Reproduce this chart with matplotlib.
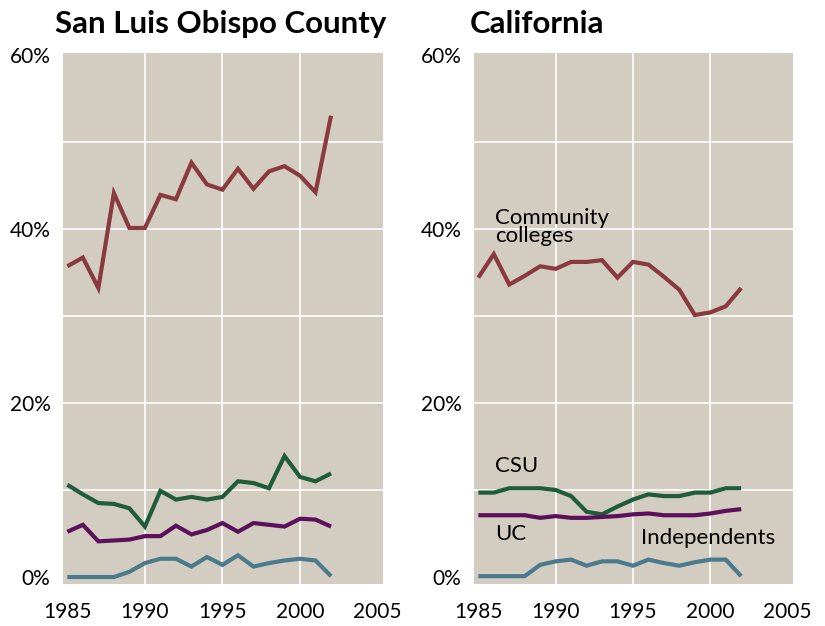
import matplotlib
matplotlib.use("Agg")
import matplotlib.pyplot as plt

years = list(range(1985, 2003))

slo_cc = [35.7, 36.7, 33.2, 44.1, 40.1, 40.1, 43.9, 43.4, 47.6, 45.1, 44.5, 46.9, 44.6, 46.6, 47.2, 46.1, 44.2, 53.0]
slo_csu = [10.6, 9.5, 8.5, 8.4, 7.9, 5.8, 9.9, 8.9, 9.2, 8.9, 9.2, 11.0, 10.8, 10.2, 13.9, 11.5, 11.0, 11.9]
slo_uc = [5.2, 6.0, 4.1, 4.2, 4.3, 4.7, 4.7, 5.9, 4.9, 5.4, 6.2, 5.2, 6.2, 6.0, 5.8, 6.7, 6.6, 5.8]
slo_ind = [0.0, 0.0, 0.0, 0.0, 0.6, 1.6, 2.1, 2.1, 1.2, 2.3, 1.4, 2.5, 1.2, 1.6, 1.9, 2.1, 1.9, 0.1]

ca_cc = [34.4, 37.1, 33.6, 34.6, 35.7, 35.4, 36.2, 36.2, 36.4, 34.4, 36.2, 35.9, 34.5, 33.0, 30.1, 30.4, 31.1, 33.2]
ca_csu = [9.7, 9.7, 10.2, 10.2, 10.2, 10.0, 9.3, 7.5, 7.2, 8.1, 8.9, 9.5, 9.3, 9.3, 9.7, 9.7, 10.2, 10.2]
ca_uc = [7.1, 7.1, 7.1, 7.1, 6.8, 7.0, 6.8, 6.8, 6.9, 7.0, 7.2, 7.3, 7.1, 7.1, 7.1, 7.3, 7.6, 7.8]
ca_ind = [0.1, 0.1, 0.1, 0.1, 1.4, 1.8, 2.0, 1.3, 1.8, 1.8, 1.3, 2.0, 1.6, 1.3, 1.7, 2.0, 2.0, 0.1]

titles = ["San Luis Obispo County", "California"]
xticks = [1985, 1990, 1995, 2000, 2005]
yticks = [0, 20, 40, 60]
ytick_labels = ["0%", "20%", "40%", "60%"]

colors = {"cc": "#8a3a3f", "csu": "#1f5c3b", "uc": "#5c0f5a", "ind": "#4a7a8c"}
bg = "#d3cdc1"
FONT = "Lato"

fig = plt.figure(figsize=(8.25, 6.26), dpi=100)
axes_pos = [[63/825, 42/626, 320/825, 531/626], [474/825, 42/626, 319/825, 531/626]]
data = [(slo_cc, slo_csu, slo_uc, slo_ind), (ca_cc, ca_csu, ca_uc, ca_ind)]

for i in range(2):
    ax = fig.add_axes(axes_pos[i])
    ax.set_facecolor(bg)
    for s in ax.spines.values():
        s.set_visible(False)
    ax.set_xlim(1984.72, 2005.35)
    ax.set_ylim(-0.8, 60.2)
    for gx in [1990, 1995, 2000]:
        ax.axvline(gx, color="white", lw=1.2, zorder=1)
    for gy in [10, 20, 30, 40, 50]:
        ax.axhline(gy, color="white", lw=1.2, zorder=1)
    cc, csu, uc, ind = data[i]
    for key, vals in zip(["cc", "csu", "uc", "ind"], [cc, csu, uc, ind]):
        ax.plot(years, vals, color=colors[key], lw=3.0, zorder=3,
                solid_joinstyle="miter", solid_capstyle="butt")
    ax.set_xticks(xticks)
    ax.set_xticklabels([str(x) for x in xticks], fontsize=15, family=FONT)
    ax.set_yticks(yticks)
    ax.set_yticklabels(ytick_labels, fontsize=15, family=FONT)
    ax.tick_params(axis="y", length=0, pad=9)
    ax.tick_params(axis="x", length=0, pad=13)
    fig.text((55 if i == 0 else 470)/825, 1 - 33/626, titles[i], fontsize=22.5,
             fontweight="bold", family=FONT, va="baseline", ha="left")
    if i == 1:
        ax.text(1986.1, 38.0, "Community\ncolleges", fontsize=16, family=FONT,
                va="bottom", ha="left", linespacing=0.9)
        ax.text(1986.1, 11.6, "CSU", fontsize=16, family=FONT, va="bottom", ha="left")
        ax.text(1986.1, 3.8, "UC", fontsize=16, family=FONT, va="bottom", ha="left")
        ax.text(1995.5, 3.3, "Independents", fontsize=16, family=FONT, va="bottom", ha="left")

fig.savefig("out.png", dpi=100)
